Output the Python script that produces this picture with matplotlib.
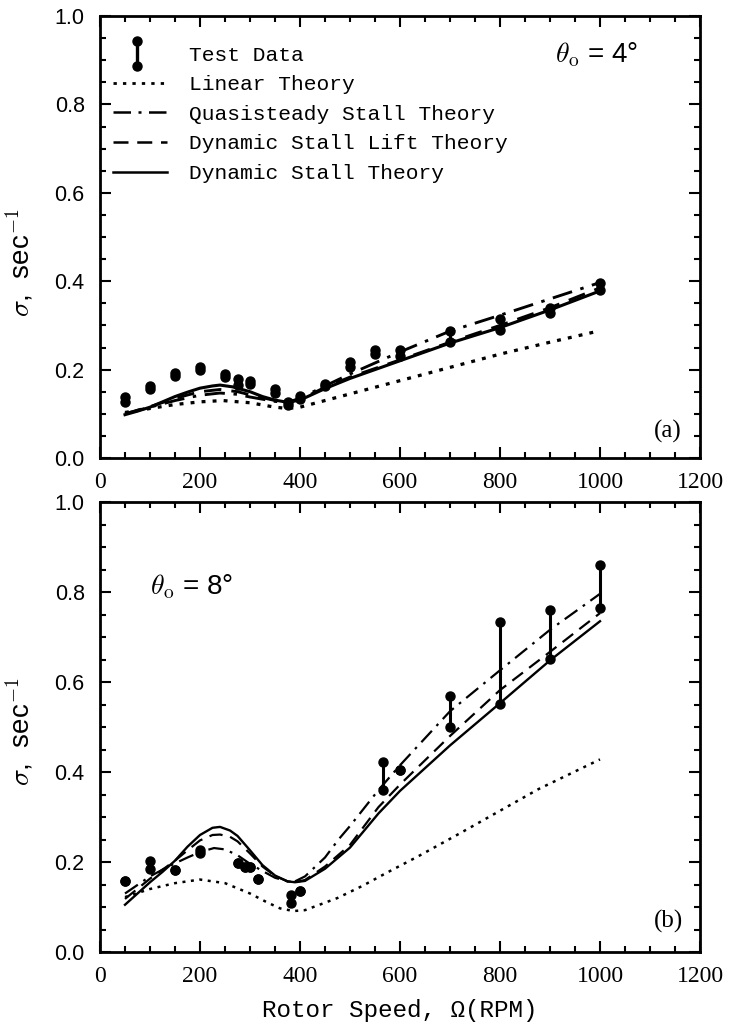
import matplotlib
matplotlib.use("Agg")
import matplotlib.pyplot as plt
from matplotlib.lines import Line2D
from matplotlib.legend_handler import HandlerBase
from matplotlib.ticker import MultipleLocator, FormatStrFormatter

# ---------------- Panel (a): theta_o = 4 deg ----------------
a_test_rpm = [50, 100, 150, 200, 250, 275, 300, 350, 375, 400, 450, 500, 550, 600, 700, 800, 900, 1000]
a_test_lo = [0.127, 0.155, 0.186, 0.199, 0.183, 0.165, 0.168, 0.147, 0.120, 0.134, 0.163, 0.207, 0.235, 0.231, 0.263, 0.290, 0.327, 0.380]
a_test_hi = [0.139, 0.162, 0.193, 0.207, 0.190, 0.178, 0.175, 0.155, 0.127, 0.140, 0.168, 0.218, 0.245, 0.244, 0.288, 0.315, 0.339, 0.397]

a_lin_rpm = [50, 100, 150, 200, 245, 300, 350, 375, 400, 450, 500, 600, 700, 800, 900, 1000]
a_lin = [0.103, 0.112, 0.121, 0.127, 0.130, 0.125, 0.115, 0.112, 0.115, 0.130, 0.145, 0.175, 0.205, 0.235, 0.262, 0.288]

a_qs_rpm = [50, 100, 150, 200, 240, 275, 300, 350, 375, 400, 450, 500, 550, 600, 700, 800, 900, 1000]
a_qs = [0.100, 0.115, 0.130, 0.142, 0.147, 0.144, 0.138, 0.128, 0.126, 0.135, 0.163, 0.190, 0.215, 0.240, 0.287, 0.323, 0.360, 0.397]

a_dsl_rpm = [50, 100, 150, 200, 240, 275, 300, 350, 375, 400, 450, 500, 600, 700, 800, 900, 1000]
a_dsl = [0.100, 0.116, 0.135, 0.150, 0.155, 0.150, 0.143, 0.130, 0.127, 0.132, 0.160, 0.183, 0.222, 0.262, 0.300, 0.340, 0.385]

a_ds_rpm = [50, 75, 100, 125, 150, 175, 200, 225, 240, 265, 300, 325, 350, 375, 400, 450, 500, 550, 600, 700, 800, 900, 1000]
a_ds = [0.098, 0.106, 0.115, 0.127, 0.139, 0.149, 0.158, 0.163, 0.165, 0.161, 0.150, 0.139, 0.131, 0.126, 0.131, 0.157, 0.180, 0.200, 0.220, 0.260, 0.295, 0.335, 0.378]

# ---------------- Panel (b): theta_o = 8 deg ----------------
b_test_rpm = [50, 100, 150, 200, 275, 290, 300, 315, 382, 400, 565, 600, 700, 800, 900, 1000]
b_test_lo = [0.157, 0.185, 0.182, 0.220, 0.198, 0.189, 0.189, 0.162, 0.108, 0.136, 0.359, 0.404, 0.500, 0.552, 0.652, 0.764]
b_test_hi = [0.157, 0.202, 0.182, 0.226, 0.198, 0.189, 0.189, 0.162, 0.127, 0.136, 0.422, 0.404, 0.570, 0.733, 0.761, 0.859]

b_lin_rpm = [50, 100, 150, 200, 250, 300, 333, 360, 387, 410, 475, 525, 575, 637, 717, 797, 877, 1000]
b_lin = [0.122, 0.140, 0.153, 0.161, 0.153, 0.130, 0.111, 0.097, 0.091, 0.093, 0.120, 0.147, 0.177, 0.213, 0.262, 0.312, 0.362, 0.428]

b_qs_rpm = [50, 100, 125, 150, 175, 200, 228, 250, 275, 300, 325, 350, 375, 390, 410, 450, 477, 500, 557, 600, 700, 800, 900, 1000]
b_qs = [0.130, 0.168, 0.183, 0.197, 0.210, 0.222, 0.231, 0.228, 0.215, 0.196, 0.180, 0.165, 0.157, 0.157, 0.168, 0.210, 0.250, 0.280, 0.360, 0.415, 0.535, 0.626, 0.716, 0.796]

b_dsl_rpm = [50, 100, 125, 150, 175, 200, 225, 240, 260, 275, 300, 325, 350, 375, 390, 410, 450, 500, 557, 600, 700, 800, 900, 1000]
b_dsl = [0.118, 0.163, 0.183, 0.203, 0.226, 0.248, 0.260, 0.261, 0.256, 0.246, 0.219, 0.190, 0.169, 0.157, 0.155, 0.160, 0.190, 0.238, 0.322, 0.372, 0.480, 0.582, 0.667, 0.753]

b_ds_rpm = [50, 100, 125, 150, 175, 200, 225, 240, 260, 275, 300, 325, 350, 375, 390, 410, 450, 500, 557, 600, 700, 800, 900, 1000]
b_ds = [0.105, 0.155, 0.178, 0.203, 0.234, 0.260, 0.276, 0.278, 0.270, 0.258, 0.226, 0.193, 0.170, 0.157, 0.155, 0.158, 0.185, 0.232, 0.308, 0.358, 0.459, 0.553, 0.648, 0.735]

legend_labels = ["Test Data", "Linear Theory", "Quasisteady Stall Theory",
                 "Dynamic Stall Lift Theory", "Dynamic Stall Theory"]
x_ticks = [0, 200, 400, 600, 800, 1000, 1200]
y_ticks = [0.0, 0.2, 0.4, 0.6, 0.8, 1.0]

MONO = "Liberation Mono"
SERIF = "Liberation Serif"
SANS = "Liberation Sans"

plt.rcParams["mathtext.fontset"] = "cm"

fig = plt.figure(figsize=(7.35, 10.36), dpi=100)
ax_a = fig.add_axes([100 / 735, 1 - 458 / 1036, 600 / 735, 442 / 1036])
ax_b = fig.add_axes([100 / 735, 1 - 952 / 1036, 600 / 735, 450 / 1036])

DOT = (0, (1.2, 2.2))
DASHDOT = (0, (7, 3, 1.2, 3))
DASH = (0, (6, 3.5))


class HandlerTest(HandlerBase):
    def create_artists(self, legend, orig_handle, xdescent, ydescent,
                       width, height, fontsize, trans):
        cx = width * 0.45 - xdescent
        y0 = -ydescent - 0.4 * height
        y1 = -ydescent + 1.3 * height
        ln = Line2D([cx, cx], [y0, y1], color="black", lw=2.4, transform=trans)
        dots = Line2D([cx, cx], [y0, y1], ls="none", marker="o", ms=6.5,
                      color="black", transform=trans)
        return [ln, dots]


def draw(ax, lw_scale, t_rpm, t_lo, t_hi, lin_x, lin, qs_x, qs, dsl_x, dsl, ds_x, ds):
    lin_l, = ax.plot(lin_x, lin, color="black", lw=1.8 * lw_scale, ls=DOT)
    qs_l, = ax.plot(qs_x, qs, color="black", lw=1.6 * lw_scale, ls=DASHDOT)
    dsl_l, = ax.plot(dsl_x, dsl, color="black", lw=1.6 * lw_scale, ls=DASH)
    ds_l, = ax.plot(ds_x, ds, color="black", lw=1.7 * lw_scale, ls="-")
    ax.vlines(t_rpm, t_lo, t_hi, color="black", lw=2.2)
    ax.plot(t_rpm, t_lo, ls="none", marker="o", ms=6.5, color="black")
    ax.plot(t_rpm, t_hi, ls="none", marker="o", ms=6.5, color="black")
    ax.set_xlim(0, 1200)
    ax.set_ylim(0, 1.0)
    ax.set_xticks(x_ticks)
    ax.set_yticks(y_ticks)
    ax.xaxis.set_minor_locator(MultipleLocator(50))
    ax.yaxis.set_minor_locator(MultipleLocator(0.05))
    ax.yaxis.set_major_formatter(FormatStrFormatter("%.1f"))
    ax.tick_params(which="both", direction="in", top=True, right=True, width=1.5)
    ax.tick_params(which="major", length=8)
    ax.tick_params(which="minor", length=4)
    ax.tick_params(axis="x", pad=10)
    ax.tick_params(axis="y", pad=11)
    for lab in ax.get_xticklabels():
        lab.set_fontfamily(SERIF)
        lab.set_fontsize(17)
    for lab in ax.get_yticklabels():
        lab.set_fontfamily(SANS)
        lab.set_fontsize(15.5)
    for sp in ax.spines.values():
        sp.set_linewidth(2.0)
    ax.set_ylabel(r"$\sigma$,  sec$^{-1}$", fontsize=20, family=SANS)
    return lin_l, qs_l, dsl_l, ds_l


draw(ax_a, 1.3, a_test_rpm, a_test_lo, a_test_hi,
     a_lin_rpm, a_lin, a_qs_rpm, a_qs, a_dsl_rpm, a_dsl, a_ds_rpm, a_ds)
draw(ax_b, 1.0, b_test_rpm, b_test_lo, b_test_hi,
     b_lin_rpm, b_lin, b_qs_rpm, b_qs, b_dsl_rpm, b_dsl, b_ds_rpm, b_ds)

ax_a.yaxis.set_label_coords(-0.108, 0.443)
ax_b.yaxis.set_label_coords(-0.108, 0.49)

# legend
test_proxy = Line2D([], [], color="black")
leg_handles = [test_proxy] + [Line2D([], [], color="black", lw=2.0, ls=DOT),
                              Line2D([], [], color="black", lw=1.8, ls=DASHDOT),
                              Line2D([], [], color="black", lw=1.8, ls=DASH),
                              Line2D([], [], color="black", lw=1.8, ls="-")]
ax_a.legend(leg_handles, legend_labels, loc="upper left",
            bbox_to_anchor=(0.0, 0.962), frameon=False,
            prop={"family": MONO, "size": 15.3},
            handlelength=2.55, handletextpad=1.05, labelspacing=0.5,
            borderaxespad=0.2, handler_map={test_proxy: HandlerTest()})

ax_a.text(0.758, 0.912, r"$\theta_{\rm o}$ = 4°", transform=ax_a.transAxes,
          fontsize=20, family=SANS, ha="left", va="center")
ax_b.text(0.083, 0.811, r"$\theta_{\rm o}$ = 8°", transform=ax_b.transAxes,
          fontsize=20, family=SANS, ha="left", va="center")
ax_a.text(0.947, 0.059, "(a)", transform=ax_a.transAxes, fontsize=18,
          family=SERIF, ha="center", va="center")
ax_b.text(0.947, 0.067, "(b)", transform=ax_b.transAxes, fontsize=18,
          family=SERIF, ha="center", va="center")

ax_b.set_xlabel("Rotor Speed, Ω(RPM)", fontsize=17.5, family=MONO, labelpad=9)

fig.savefig("out.png", dpi=100)
